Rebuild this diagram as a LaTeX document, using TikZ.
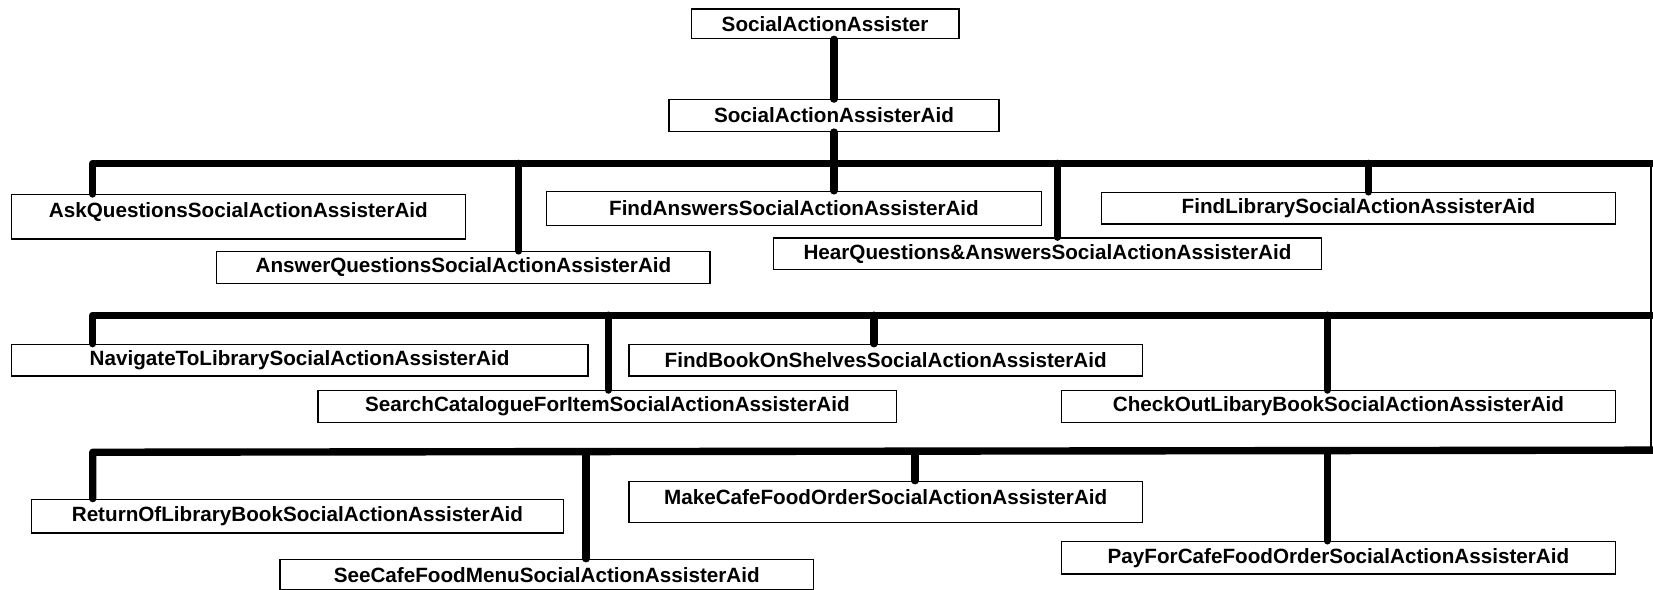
\documentclass[tikz,border=0pt]{standalone}
\usepackage{fontspec}
\setmainfont{Liberation Sans}
\begin{document}
\begin{tikzpicture}[x=1pt,y=-1pt,
  box/.style={draw, line width=1.3pt, anchor=north west, inner sep=0pt,
    font=\bfseries\fontsize{19.6}{22}\selectfont},
  conn/.style={line width=7pt, line cap=round},
  barline/.style={line width=7pt, line cap=round, line join=round},
  frame/.style={line width=1.3pt}]
\useasboundingbox (0,0) rectangle (1568,559);

% nodes
\node[box, minimum width=254, minimum height=28] (root) at (655,8) {SocialActionAssister};
\node[box, minimum width=313, minimum height=30] (aid) at (634,94) {SocialActionAssisterAid};

\node[box, minimum width=431, minimum height=42, text depth=12pt] (ask) at (10,184) {AskQuestionsSocialActionAssisterAid};
\node[box, minimum width=468, minimum height=30] (ans) at (205,238) {AnswerQuestionsSocialActionAssisterAid};
\node[box, minimum width=469, minimum height=32] (fa) at (518,181) {FindAnswersSocialActionAssisterAid};
\node[box, minimum width=520, minimum height=30] (hear) at (733,225) {HearQuestions\&AnswersSocialActionAssisterAid};
\node[box, minimum width=488, minimum height=30] (fl) at (1044,182) {FindLibrarySocialActionAssisterAid};

\node[box, minimum width=547, minimum height=30] (nav) at (10,326) {NavigateToLibrarySocialActionAssisterAid};
\node[box, minimum width=549, minimum height=30] (search) at (301,370) {SearchCatalogueForItemSocialActionAssisterAid};
\node[box, minimum width=487, minimum height=30] (fbook) at (596,326) {FindBookOnShelvesSocialActionAssisterAid};
\node[box, minimum width=526, minimum height=30] (check) at (1006,370) {CheckOutLibaryBookSocialActionAssisterAid};

\node[box, minimum width=505, minimum height=32] (ret) at (29,473) {ReturnOfLibraryBookSocialActionAssisterAid};
\node[box, minimum width=506, minimum height=29] (see) at (265,530) {SeeCafeFoodMenuSocialActionAssisterAid};
\node[box, minimum width=487, minimum height=39, text depth=10pt] (make) at (596,456) {MakeCafeFoodOrderSocialActionAssisterAid};
\node[box, minimum width=526, minimum height=31] (pay) at (1006,513) {PayForCafeFoodOrderSocialActionAssisterAid};

% bar coordinates
\coordinate (b1) at (88,155);
\coordinate (b1r) at (1568,155);
\coordinate (b2) at (88,299);
\coordinate (b2r) at (1568,299);
\coordinate (b3) at (88,429);
\coordinate (b3r) at (1568,427);
\coordinate (fr) at (1566,155);
\coordinate (frb) at (1566,427);

% top connectors
\draw[conn] (aid.north) -- (aid.north |- root.south);
\draw[conn] (aid.south) -- (aid.south |- fa.north);

% right frame
\draw[frame] (fr) -- (frb);

% bar 1
\draw[barline] (b1 |- ask.north) -- (b1) -- (b1r);
\coordinate (c12) at (492,155);
\coordinate (c14) at (1003,155);
\coordinate (c15) at (1298,155);
\draw[conn] (c12) -- (c12 |- ans.north);
\draw[conn] (c14) -- (c14 |- hear.north);
\draw[conn] (c15) -- (c15 |- fl.north);

% bar 2
\draw[barline] (b2 |- nav.north) -- (b2) -- (b2r);
\coordinate (c22) at (577,299);
\coordinate (c23) at (829,299);
\coordinate (c24) at (1259,299);
\draw[conn] (c22) -- (c22 |- search.north);
\draw[conn] (c23) -- (c23 |- fbook.north);
\draw[conn] (c24) -- (c24 |- check.north);

% bar 3
\draw[barline] (b3 |- ret.north) -- (b3) -- (b3r);
\coordinate (c32) at (556,429);
\coordinate (c33) at (868,429);
\coordinate (c34) at (1259,428);
\draw[conn] (c32) -- (c32 |- see.north);
\draw[conn] (c33) -- (c33 |- make.north);
\draw[conn] (c34) -- (c34 |- pay.north);
\end{tikzpicture}
\end{document}
